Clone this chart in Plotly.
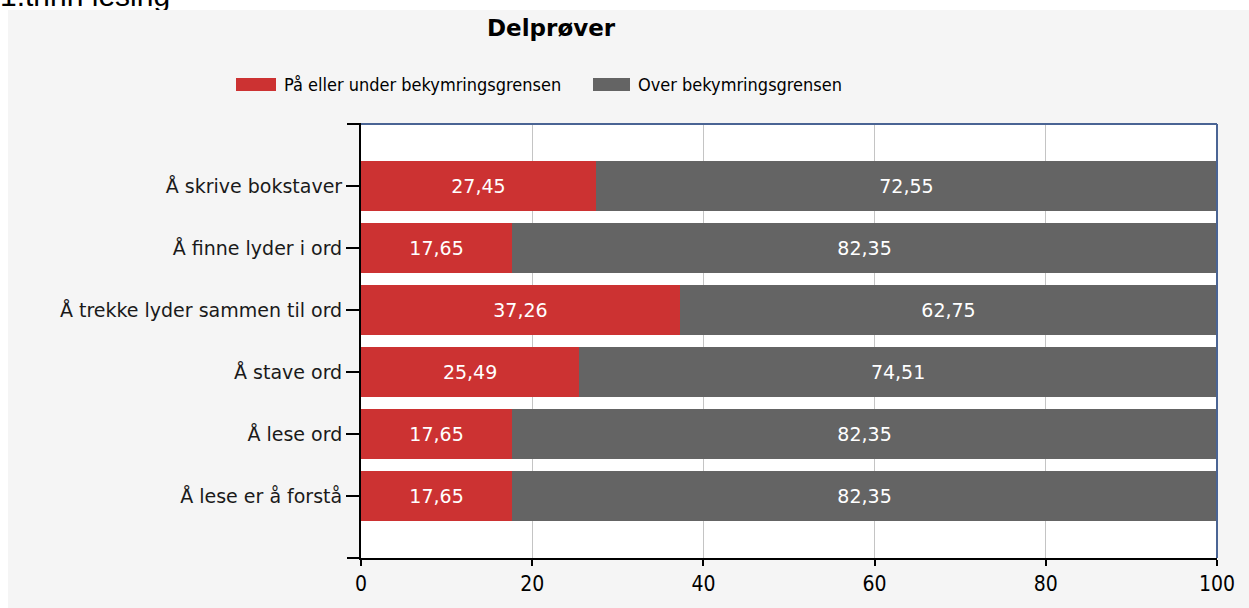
import plotly.graph_objects as go

categories = ["Å skrive bokstaver", "Å finne lyder i ord", "Å trekke lyder sammen til ord",
              "Å stave ord", "Å lese ord", "Å lese er å forstå"]
under_values = [27.45, 17.65, 37.26, 25.49, 17.65, 17.65]
over_values = [72.55, 82.35, 62.75, 74.51, 82.35, 82.35]
series_names = ["På eller under bekymringsgrensen", "Over bekymringsgrensen"]
series_colors = ["#cc3232", "#646464"]
x_ticks = [0, 20, 40, 60, 80, 100]
chart_title = "Delprøver"
page_heading = "1.trinn lesing"

W, H = 1249, 608
L, R, T, B = 361, 1217, 124, 558
STRIP = 10  # white band above the chart image


def fx(x):
    return x / W


def fy(y):
    return 1 - y / H


fig = go.Figure()
for name, vals, col in zip(series_names, [under_values, over_values], series_colors):
    fig.add_trace(go.Bar(
        y=categories, x=vals, orientation="h", name=name,
        marker=dict(color=col, line=dict(width=0)),
        width=0.8,
        texttemplate="%{x:.2f}", textposition="inside", insidetextanchor="middle",
        textfont=dict(family="DejaVu Sans", size=19, color="white"),
        showlegend=False, xaxis="x", yaxis="y",
    ))

# page heading, partly hidden behind the chart image (clipped to the white band)
fig.add_trace(go.Scatter(
    x=[0], y=[1.15], mode="text", text=[page_heading], textposition="middle right",
    textfont=dict(family="Liberation Sans", size=30, color="black"),
    cliponaxis=True, hoverinfo="skip", showlegend=False, xaxis="x2", yaxis="y2",
))

shapes = [
    dict(type="rect", xref="paper", yref="paper", x0=fx(-5), x1=fx(8), y0=fy(H + 5), y1=fy(-5),
         fillcolor="white", line=dict(width=0), layer="below"),
    # blue top/right border
    dict(type="line", xref="paper", yref="paper", x0=fx(L), x1=fx(R), y0=fy(T), y1=fy(T),
         line=dict(color="#4a6494", width=2)),
    dict(type="line", xref="paper", yref="paper", x0=fx(R), x1=fx(R), y0=fy(B), y1=fy(T),
         line=dict(color="#4a6494", width=2)),
    # axis end ticks
    dict(type="line", xref="paper", yref="paper", x0=fx(347), x1=fx(L), y0=fy(T), y1=fy(T),
         line=dict(color="black", width=2)),
    dict(type="line", xref="paper", yref="paper", x0=fx(347), x1=fx(L), y0=fy(B), y1=fy(B),
         line=dict(color="black", width=2)),
]
annotations = [
    dict(text="<b>" + chart_title + "</b>", xref="paper", yref="paper", x=fx(551), y=fy(28),
         xanchor="center", yanchor="middle", showarrow=False,
         font=dict(family="DejaVu Sans", size=23, color="black")),
]
# manual legend
leg = [(236, 276, 282), (593, 630, 636)]
for (bx0, bx1, tx), name, col in zip(leg, series_names, series_colors):
    shapes.append(dict(type="rect", xref="paper", yref="paper", x0=fx(bx0), x1=fx(bx1),
                       y0=fy(91), y1=fy(78), fillcolor=col, line=dict(width=0)))
    annotations.append(dict(text=name, xref="paper", yref="paper", x=fx(tx), y=fy(84.5),
                            xanchor="left", yanchor="middle", showarrow=False,
                            font=dict(family="DejaVu Sans Condensed", size=18, color="black")))

fig.update_layout(
    width=W, height=H, autosize=False,
    margin=dict(l=0, r=0, t=0, b=0, pad=0, autoexpand=False),
    paper_bgcolor="#f5f5f5", plot_bgcolor="white",
    barmode="stack", bargap=0.2,
    separators=", ",
    shapes=shapes, annotations=annotations,
    xaxis=dict(domain=[fx(L), fx(R)], anchor="y", automargin=False,
               range=[0, 100], tickvals=x_ticks, showgrid=True, gridcolor="#c4c4c4", gridwidth=1,
               showline=True, linecolor="black", linewidth=2, ticks="outside", ticklen=6,
               tickwidth=2, tickcolor="black", zeroline=False, fixedrange=True,
               tickfont=dict(family="DejaVu Sans Condensed", size=21, color="black")),
    yaxis=dict(domain=[fy(B), fy(T)], anchor="x", automargin=False,
               type="category", categoryorder="array", categoryarray=categories,
               range=[6, -1], showgrid=False, showline=True, linecolor="black", linewidth=2,
               ticks="outside", ticklen=13, tickwidth=2, tickcolor="black", zeroline=False,
               fixedrange=True,
               tickfont=dict(family="DejaVu Sans", size=19, color="#1a1a1a")),
    xaxis2=dict(domain=[0, 1], anchor="y2", range=[0, 1], visible=False, fixedrange=True,
                automargin=False),
    yaxis2=dict(domain=[fy(STRIP), 1], anchor="x2", range=[0, 1], visible=False, fixedrange=True,
                automargin=False),
)
fig.write_html(
    "out.html",
    config={"displayModeBar": False, "responsive": False},
    post_script=("document.documentElement.style.overflow='hidden';"
                 "document.body.style.overflow='hidden';"
                 "document.body.style.margin='0px';"),
)
